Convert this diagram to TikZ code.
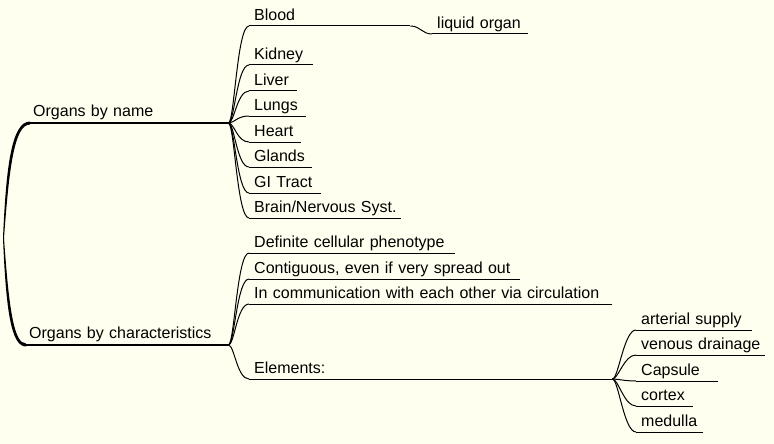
\documentclass[tikz,border=0pt]{standalone}
\usepackage{fontspec}
\setmainfont{Liberation Sans}
\usepackage{tikz}
\definecolor{mapbg}{RGB}{255,255,240}

\begin{document}
\begin{tikzpicture}[x=1pt, y=-1pt,
  every node/.style={font=\fontsize{16}{19}\selectfont, anchor=south west, text depth=0pt, align=left,
    execute at begin node={\hbox\bgroup}, execute at end node={\egroup}},
  branch/.style={inner xsep=3pt, inner ysep=6pt, text width=#1},
  leaf/.style={inner xsep=5pt, inner ysep=5pt, text width=#1},
  twig/.style={line width=1pt},
  limb/.style={line width=2.2pt}]

  % background
  \fill[mapbg] (0,0) rectangle (774,444);
  \useasboundingbox (0,0) rectangle (774,444);

  % the two main branches
  \coordinate (root) at (3,238);
  \node[branch=192] (byname) at (30,123) {Organs by name};
  \node[branch=196] (bychar) at (26,345) {Organs by characteristics};

  % organs by name
  \node[leaf=151] (blood) at (249,26) {Blood};
  \node[leaf=86] (liquid) at (432,34) {liquid organ};
  \node[leaf=54] (kidney) at (249,65) {Kidney};
  \node[leaf=38] (liver) at (249,91) {Liver};
  \node[leaf=47] (lungs) at (249,116) {Lungs};
  \node[leaf=42] (heart) at (249,142) {Heart};
  \node[leaf=53] (glands) at (249,167) {Glands};
  \node[leaf=62] (gitract) at (249,193) {GI Tract};
  \node[leaf=142] (brain) at (249,218) {Brain/Nervous Syst.};

  % organs by characteristics
  \node[leaf=196] (phenotype) at (249,253) {Definite cellular phenotype};
  \node[leaf=261] (contiguous) at (249,279) {Contiguous, even if very spread out};
  \node[leaf=353] (circulation) at (249,304) {In communication with each other via circulation};
  \node[leaf=353] (elements) at (249,379) {Elements:};

  % elements
  \node[leaf=106] (arterial) at (636,330) {arterial supply};
  \node[leaf=119] (venous) at (636,355) {venous drainage};
  \node[leaf=72] (capsule) at (636,381) {Capsule};
  \node[leaf=47] (cortex) at (636,406) {cortex};
  \node[leaf=57] (medulla) at (636,432) {medulla};

  % underlines
  \foreach \n in {blood,liquid,kidney,liver,lungs,heart,glands,gitract,brain,
                  phenotype,contiguous,circulation,elements,
                  arterial,venous,capsule,cortex,medulla}
    \draw[twig] (\n.south west) -- (\n.south east);
  \foreach \n in {byname,bychar}
    \draw[limb] (\n.south west) -- (\n.south east);

  % tapered edges from the root
  \fill (root) .. controls (6,170) and (11,121.5) .. ([yshift=1.5pt]byname.south west)
    -- ([yshift=-1.5pt]byname.south west) .. controls (14,124.5) and (9,170) .. ([xshift=1pt]root) -- cycle;
  \fill (root) .. controls (6,310) and (11,346.5) .. ([yshift=-1.5pt]bychar.south west)
    -- ([yshift=1.5pt]bychar.south west) .. controls (14,343.5) and (9,310) .. ([xshift=1pt]root) -- cycle;

  % edges
  \foreach \n in {blood,kidney,liver,lungs,heart,glands,gitract,brain}
    \draw[twig] (byname.south east) .. controls +(6,0) and +(-12,0) .. (\n.south west);
  \foreach \n in {phenotype,contiguous,circulation,elements}
    \draw[twig] (bychar.south east) .. controls +(6,0) and +(-12,0) .. (\n.south west);
  \foreach \n in {arterial,venous,capsule,cortex,medulla}
    \draw[twig] (elements.south east) .. controls +(6,0) and +(-12,0) .. (\n.south west);
  \draw[twig] (blood.south east) .. controls +(10,0) and +(-10,0) .. (liquid.south west);
\end{tikzpicture}
\end{document}
